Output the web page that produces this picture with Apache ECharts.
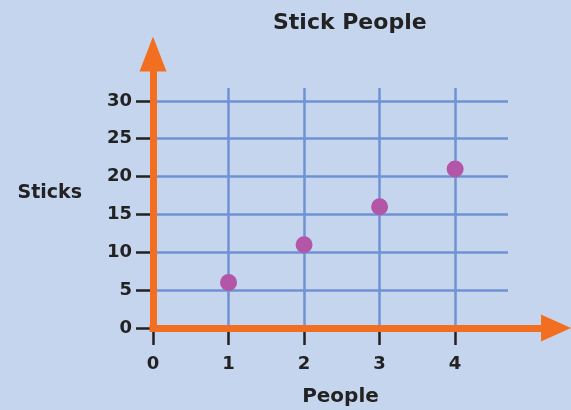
<!DOCTYPE html>
<html>
<head>
<meta charset="utf-8">
<script src="https://cdn.jsdelivr.net/npm/echarts@6/dist/echarts.min.js"></script>
<style>
  html, body { margin: 0; padding: 0; background: #c6d5ee; }
  #chart { width: 571px; height: 410px; }
</style>
</head>
<body>
<div id="chart"></div>
<script>
const people = [1, 2, 3, 4];
const sticks = [6, 11, 16, 21];
const xTicks = [0, 1, 2, 3, 4];
const yTicks = [0, 5, 10, 15, 20, 25, 30];

const colorOrange = '#f26f21';
const colorGrid = '#6f92d3';
const colorDot = '#b456a8';
const colorInk = '#222222';
const font = 'DejaVu Sans';

const chart = echarts.init(document.getElementById('chart'));

const option = {
    backgroundColor: '#c6d5ee',
    title: {
        text: 'Stick People',
        left: 268,
        top: 7,
        textStyle: { fontFamily: font, fontWeight: 'bold', fontSize: 22, color: colorInk }
    },
    grid: [
        { left: 153, right: 63, top: 88, bottom: 82, outerBoundsMode: 'none' },
        { left: 153, right: 15, top: 54, bottom: 82, outerBoundsMode: 'none' }
    ],
    xAxis: [{
        type: 'value',
        gridIndex: 0,
        min: 0,
        max: 4.7,
        interval: 1,
        name: 'People',
        nameLocation: 'middle',
        nameGap: 59,
        nameTextStyle: { fontFamily: font, fontWeight: 'bold', fontSize: 20, color: colorInk, padding: [0, 0, 0, 20] },
        axisLine: { show: false },
        axisTick: { show: true, length: 17, customValues: xTicks, lineStyle: { color: colorInk, width: 2.5 } },
        axisLabel: { customValues: xTicks, margin: 27, fontFamily: font, fontWeight: 'bold', fontSize: 18, color: colorInk },
        splitLine: { show: true, showMinLine: false, lineStyle: { color: colorGrid, width: 2.5 } }
    }, {
        type: 'value',
        gridIndex: 1,
        min: 0,
        max: 1,
        z: 5,
        axisLine: {
            show: true,
            symbol: ['none', 'triangle'],
            symbolSize: [27, 30],
            lineStyle: { color: colorOrange, width: 7, cap: 'square' }
        },
        axisTick: { show: false },
        axisLabel: { show: false },
        splitLine: { show: false }
    }],
    yAxis: [{
        type: 'value',
        gridIndex: 0,
        min: 0,
        max: 31.7,
        interval: 5,
        name: 'Sticks',
        nameLocation: 'middle',
        nameGap: 71,
        nameRotate: 0,
        nameTextStyle: { fontFamily: font, fontWeight: 'bold', fontSize: 19, color: colorInk, verticalAlign: 'bottom', padding: [0, 0, 5, 0] },
        axisLine: { show: false },
        axisTick: { show: true, length: 17, customValues: yTicks, lineStyle: { color: colorInk, width: 2.5 } },
        axisLabel: { customValues: yTicks, margin: 21, fontFamily: font, fontWeight: 'bold', fontSize: 18, color: colorInk },
        splitLine: { show: true, showMinLine: false, lineStyle: { color: colorGrid, width: 2.5 } }
    }, {
        type: 'value',
        gridIndex: 1,
        min: 0,
        max: 1,
        z: 5,
        axisLine: {
            show: true,
            symbol: ['none', 'triangle'],
            symbolSize: [27, 35],
            lineStyle: { color: colorOrange, width: 7, cap: 'square' }
        },
        axisTick: { show: false },
        axisLabel: { show: false },
        splitLine: { show: false }
    }],
    series: [{
        type: 'scatter',
        xAxisIndex: 0,
        yAxisIndex: 0,
        symbolSize: 17,
        itemStyle: { color: colorDot, opacity: 1 },
        data: people.map((p, i) => [p, sticks[i]])
    }]
};

chart.setOption(option);
</script>
</body>
</html>
